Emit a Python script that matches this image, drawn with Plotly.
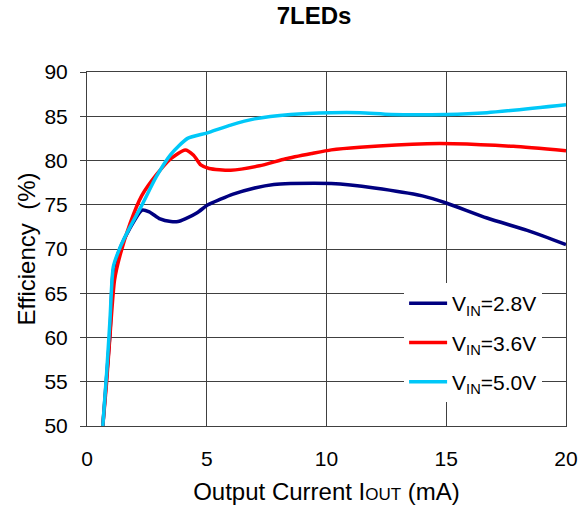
import plotly.graph_objects as go

x_28 = [0.66, 0.82, 0.96, 1.1, 1.4, 1.8, 2.3, 2.6, 3.05, 3.5, 3.8, 4.1, 4.6, 5.05, 5.55, 6.1, 7.0, 7.8, 8.5, 10.2, 12.0, 14.0, 15.0, 16.7, 18.5, 20.0]
y_28 = [50, 55.6, 60.5, 67.6, 70.2, 72.4, 74.4, 74.2, 73.4, 73.1, 73.1, 73.4, 74.1, 75.0, 75.6, 76.2, 76.9, 77.3, 77.4, 77.4, 76.9, 76.0, 75.2, 73.5, 72.0, 70.5]

x_36 = [0.66, 0.82, 0.98, 1.15, 1.4, 1.8, 2.28, 2.9, 3.5, 4.1, 4.45, 4.75, 5.1, 6.0, 7.2, 8.3, 9.4, 10.2, 11.4, 14.2, 15.3, 17.8, 20.0]
y_36 = [50, 55, 61, 66.5, 69.5, 72.9, 76.0, 78.4, 80.2, 81.2, 80.6, 79.5, 79.1, 78.9, 79.4, 80.2, 80.8, 81.2, 81.5, 81.9, 81.9, 81.6, 81.1]

x_50 = [0.66, 0.82, 0.96, 1.1, 1.4, 1.8, 2.28, 2.9, 3.5, 4.2, 5.0, 6.0, 7.0, 8.5, 10.2, 11.4, 12.7, 15.0, 16.7, 20.0]
y_50 = [50, 56, 62, 68, 70.3, 72.5, 74.9, 78.2, 80.7, 82.5, 83.1, 84.0, 84.7, 85.2, 85.4, 85.4, 85.2, 85.2, 85.4, 86.3]

names = ["V<sub>IN</sub>=2.8V", "V<sub>IN</sub>=3.6V", "V<sub>IN</sub>=5.0V"]
colors = ["#000080", "#FF0000", "#00C8F8"]

x_ticks = [0, 5, 10, 15, 20]
y_ticks = [50, 55, 60, 65, 70, 75, 80, 85, 90]

FONT = "Liberation Sans, Arial, sans-serif"

fig = go.Figure()
for i, (xs, ys, n, c) in enumerate(zip([x_28, x_36, x_50], [y_28, y_36, y_50], names, colors)):
    fig.add_trace(go.Scatter(x=xs, y=ys, mode="lines", name=n, legendgroup=f"g{i}",
                             line=dict(color=c, width=3.5, shape="spline", smoothing=0.6)))

fig.update_layout(
    width=587, height=511,
    margin=dict(l=87, r=21, t=72, b=85, autoexpand=False),
    paper_bgcolor="white", plot_bgcolor="white",
    font=dict(family=FONT, color="black", size=21),
    title=dict(text="<b>7LEDs</b>", x=0.535, xanchor="center", y=0.9687, yanchor="middle",
               yref="container", pad=dict(t=0, b=0), font=dict(size=24, family=FONT)),
    showlegend=True,
    legend=dict(x=0.662, y=0.404, xanchor="left", yanchor="top", bgcolor="white",
                font=dict(size=21, family=FONT), tracegroupgap=9, itemwidth=38),
    xaxis=dict(range=[0, 20], tickvals=x_ticks, showgrid=True, gridcolor="#404040", gridwidth=1,
               showline=True, linecolor="#404040", linewidth=1, mirror=True,
               ticks="outside", ticklen=14, tickcolor="rgba(0,0,0,0)",
               zeroline=False, tickfont=dict(size=21),
               title=dict(text="Output Current I<span style='font-size:17px'>OUT</span> (mA)",
                          font=dict(size=24), standoff=13)),
    yaxis=dict(range=[50, 90], tickvals=y_ticks, showgrid=True,
               gridcolor="#404040", gridwidth=1,
               showline=True, linecolor="#404040", linewidth=1, mirror=True, ticks="outside",
               ticklen=14, tickcolor="rgba(0,0,0,0)", zeroline=False, tickfont=dict(size=21),
               title=dict(text="Efficiency  (%)", font=dict(size=24), standoff=2)),
    yaxis2=dict(range=[50, 90], tickvals=y_ticks, overlaying="y", side="left",
                showticklabels=False, showgrid=False, zeroline=False, showline=False,
                ticks="outside", ticklen=6, tickcolor="#404040"),
)
# invisible helper trace so the tick-only overlay axis is drawn
fig.add_trace(go.Scatter(x=[None], y=[None], yaxis="y2", showlegend=False, hoverinfo="skip"))

fig.write_html("out.html", config={"displayModeBar": False},
               post_script="document.body.style.margin='0';document.body.style.padding='0';")
